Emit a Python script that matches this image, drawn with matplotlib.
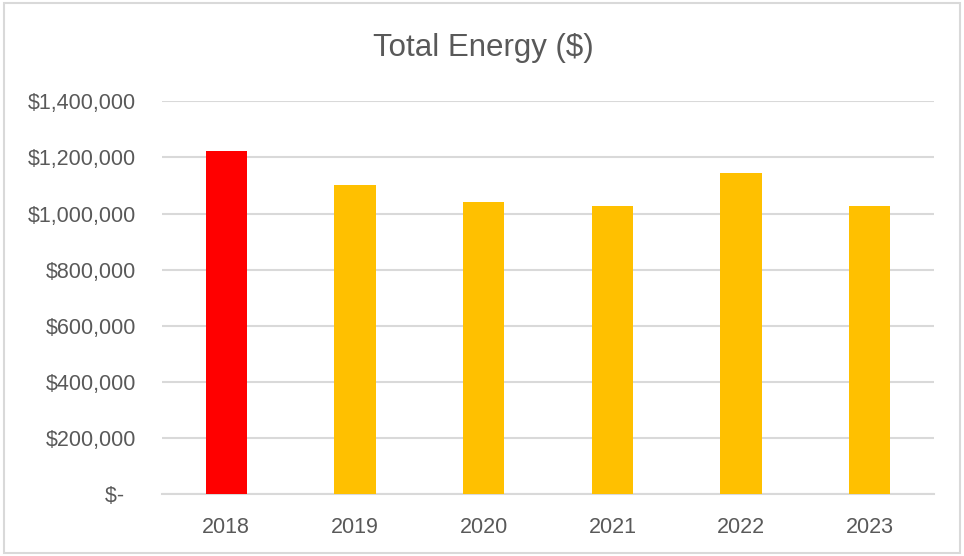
import matplotlib.pyplot as plt
import matplotlib.patches as mpatches
from matplotlib.ticker import FuncFormatter

# chart data
years = ['2018', '2019', '2020', '2021', '2022', '2023']
energy_cost = [1221000, 1103000, 1040000, 1025000, 1144000, 1025000]
bar_colors = ['#FF0000', '#FFC000', '#FFC000', '#FFC000', '#FFC000', '#FFC000']
y_ticks = [0, 200000, 400000, 600000, 800000, 1000000, 1200000, 1400000]

grey_text = '#595959'
grid_grey = '#d9d9d9'

plt.rcParams['font.family'] = ['Liberation Sans', 'DejaVu Sans']

fig = plt.figure(figsize=(9.64, 5.56), dpi=100)
ax = fig.add_axes([0.168, 0.111, 0.801, 0.707])

x = list(range(len(years)))
ax.bar(x, energy_cost, width=0.32, color=bar_colors, zorder=3)

ax.set_xlim(-0.5, len(years) - 0.5)
ax.set_ylim(0, 1400000)
ax.set_xticks(x)
ax.set_xticklabels(years)
ax.set_yticks(y_ticks)


def money(v, pos):
    if v == 0:
        return '$-  '
    return '${:,.0f}'.format(v)


ax.yaxis.set_major_formatter(FuncFormatter(money))
ax.tick_params(axis='both', length=0, labelsize=15.5, labelcolor=grey_text)
ax.tick_params(axis='y', pad=18.5)
ax.tick_params(axis='x', pad=16.5)

ax.grid(axis='y', color=grid_grey, linewidth=1.5, zorder=0)
for side in ['top', 'right', 'left']:
    ax.spines[side].set_visible(False)
ax.spines['bottom'].set_color(grid_grey)
ax.spines['bottom'].set_linewidth(1.5)

fig.text(0.501, 0.8998, 'Total Energy ($)', ha='center', va='baseline',
         fontsize=22.5, color=grey_text)

# light border round the chart area
border = mpatches.Rectangle((0.004, 0.006), 0.992, 0.988, transform=fig.transFigure,
                            fill=False, edgecolor=grid_grey, linewidth=1.5)
fig.patches.append(border)

fig.savefig('out.png', dpi=100)
